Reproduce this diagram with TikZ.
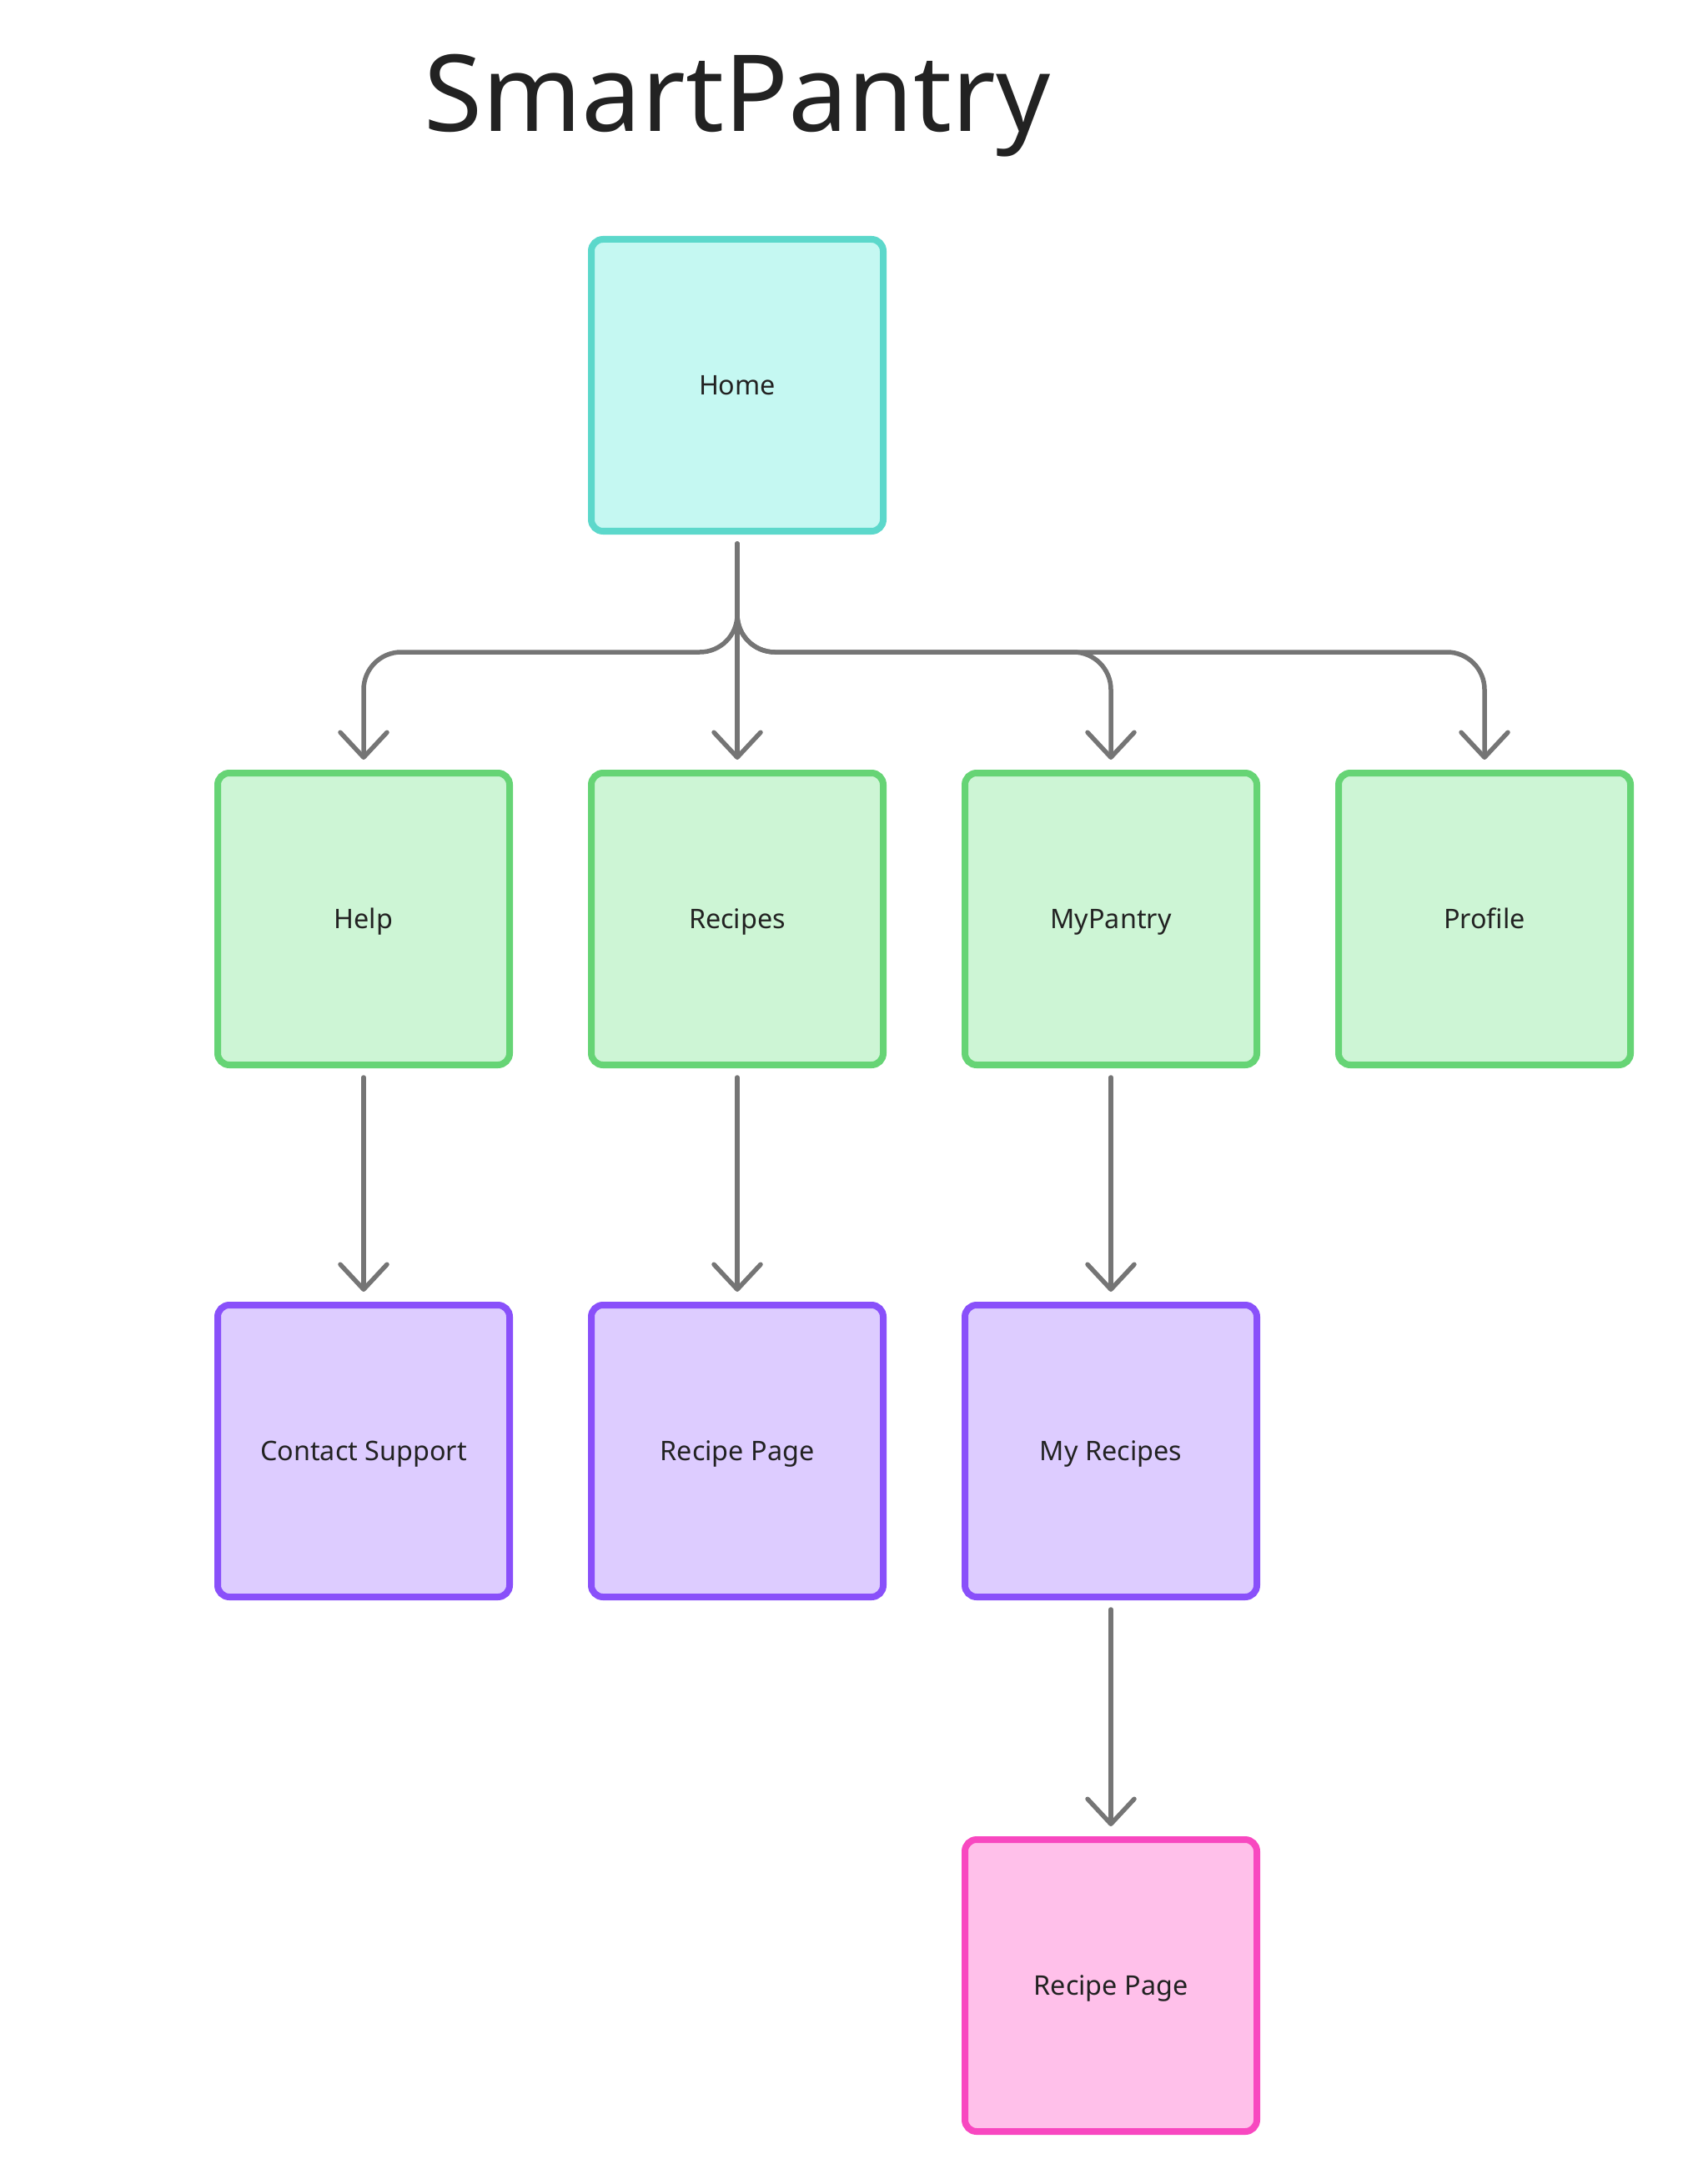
\documentclass[tikz,border=0pt]{standalone}
\usepackage{fontspec}
\setmainfont{Noto Sans}
\usepackage{tikz}
\usetikzlibrary{arrows.meta,positioning,calc}
\definecolor{homefill}{RGB}{197,248,242}
\definecolor{homeline}{RGB}{92,216,203}
\definecolor{pagefill}{RGB}{205,245,213}
\definecolor{pageline}{RGB}{102,212,117}
\definecolor{subfill}{RGB}{221,204,255}
\definecolor{subline}{RGB}{137,80,250}
\definecolor{leaffill}{RGB}{255,192,234}
\definecolor{leafline}{RGB}{248,72,192}
\definecolor{linkgray}{RGB}{117,117,117}
\definecolor{inkdark}{RGB}{34,34,34}

\begin{document}
\begin{tikzpicture}[
    box/.style={draw, rounded corners=0.14cm, line width=0.08cm,
                minimum width=3.5cm, minimum height=3.5cm, align=center,
                text height=6.5pt, text depth=0pt,
                text=inkdark, font=\fontsize{9.2pt}{11pt}\selectfont},
    home/.style={box, draw=homeline, fill=homefill},
    page/.style={box, draw=pageline, fill=pagefill},
    sub/.style={box, draw=subline, fill=subfill},
    leaf/.style={box, draw=leafline, fill=leaffill},
    arrow/.style={-{Straight Barb[length=0.3cm, width=0.56cm, round]},
                  line width=0.055cm, draw=linkgray, line cap=round,
                  shorten <=0.11cm, shorten >=0.12cm},
    branch/.style={arrow, rounded corners=0.45cm}
  ]
  \useasboundingbox (0,0) rectangle (20.17,-26.19);

  % Title
  \node[anchor=base, text=inkdark, font=\fontsize{36.3pt}{40pt}\selectfont]
       (title) at (8.84,-1.58) {SmartPantry};

  % Nodes
  \node[home] (home)    at (8.84, -4.62)  {Home};
  \node[page] (help)    at (4.36, -11.02) {Help};
  \node[page] (recipes) at (8.84, -11.02) {Recipes};
  \node[page] (pantry)  at (13.32,-11.02) {MyPantry};
  \node[page] (profile) at (17.80,-11.02) {Profile};
  \node[sub]  (support) at (4.36, -17.40) {Contact Support};
  \node[sub]  (recpage) at (8.84, -17.40) {Recipe Page};
  \node[sub]  (myrec)   at (13.32,-17.40) {My Recipes};
  \node[leaf] (myrecpage) at (13.32,-23.81) {Recipe Page};

  \coordinate (bus) at (8.84,-7.82);

  % Home -> main pages
  \draw[branch] (home) -- (bus) -| (help);
  \draw[arrow]  (home) -- (recipes);
  \draw[branch] (home) -- (bus) -| (pantry);
  \draw[branch] (home) -- (bus) -| (profile);

  % main pages -> sub pages
  \draw[arrow] (help)    -- (support);
  \draw[arrow] (recipes) -- (recpage);
  \draw[arrow] (pantry)  -- (myrec);

  % My Recipes -> Recipe Page
  \draw[arrow] (myrec) -- (myrecpage);
\end{tikzpicture}
\end{document}
